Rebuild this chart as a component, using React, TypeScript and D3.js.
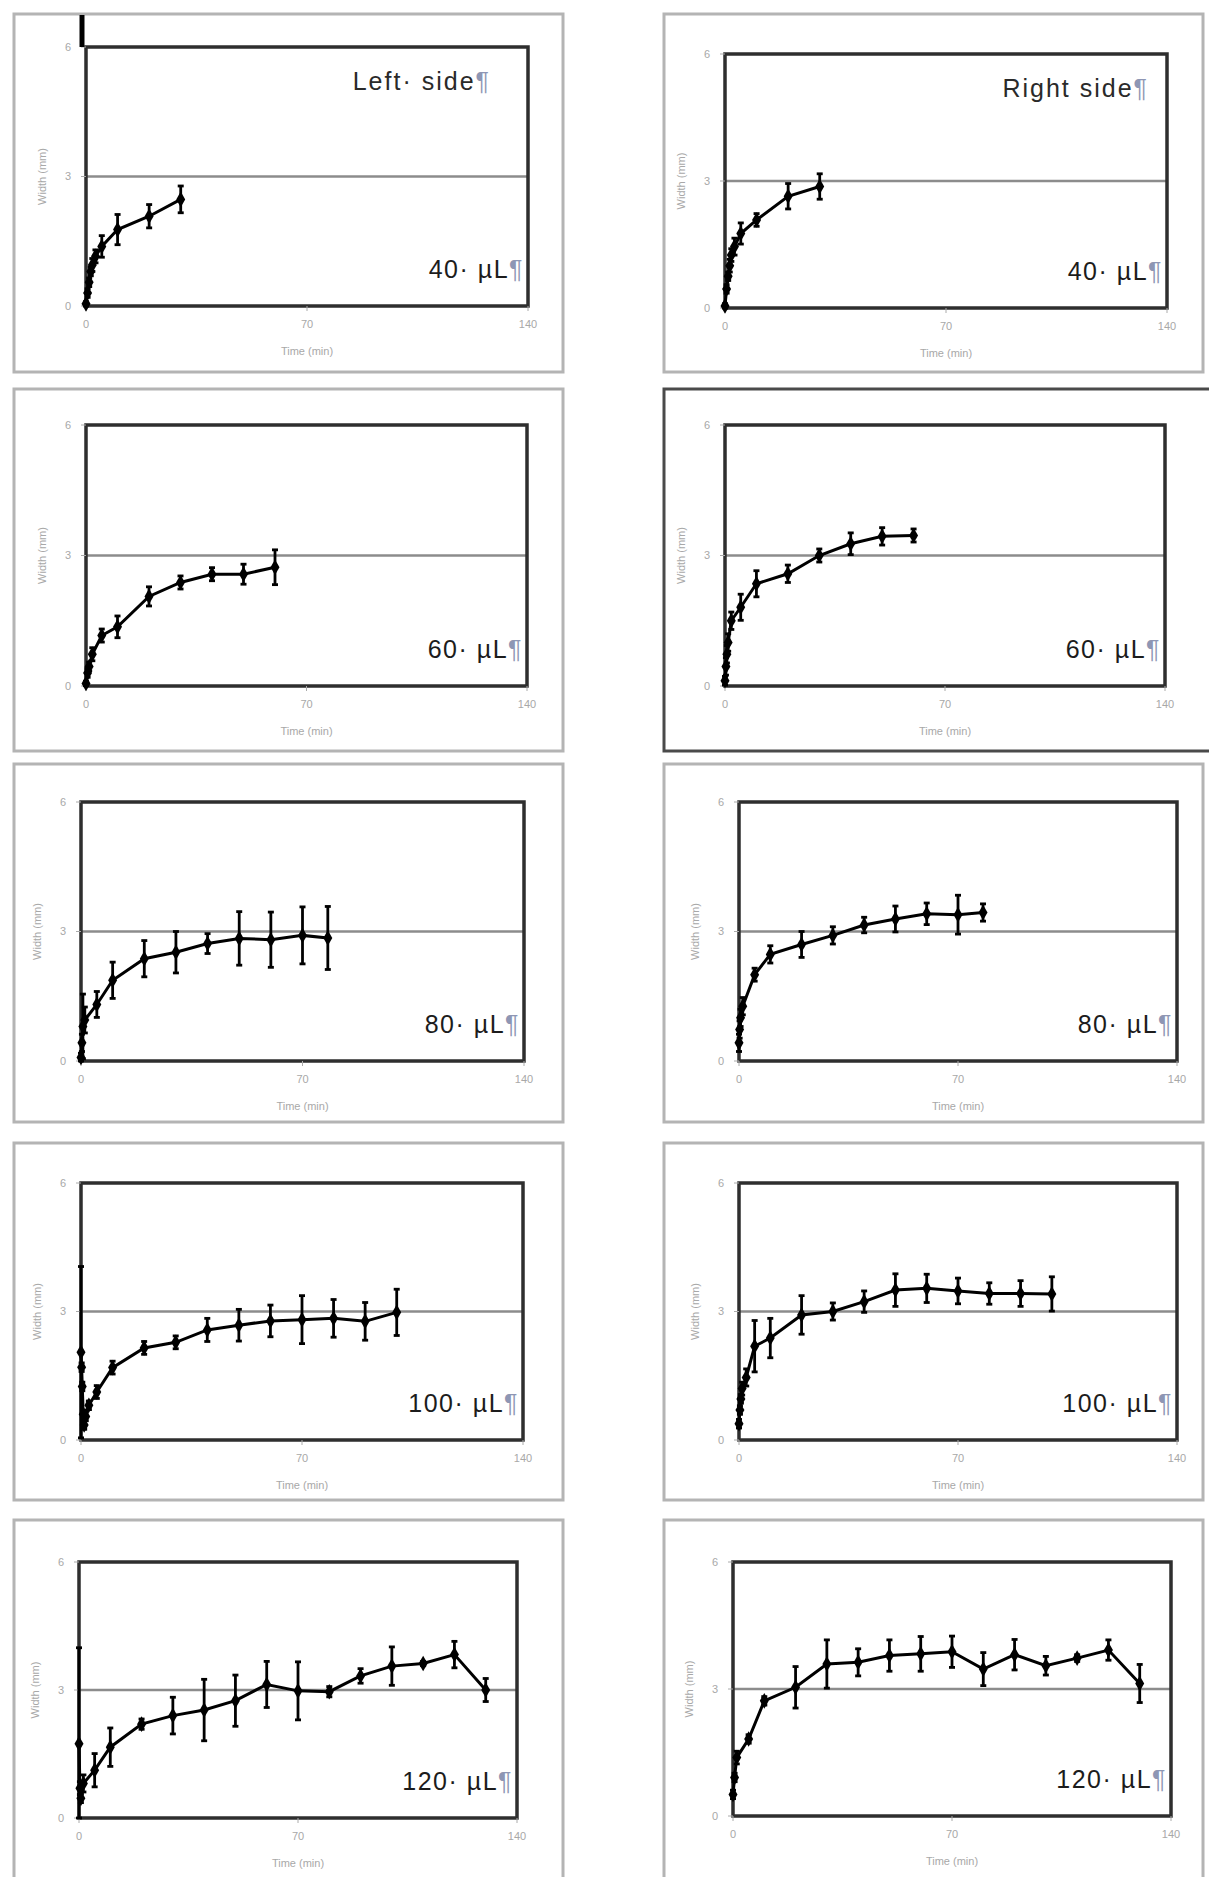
import React from "react";
import * as d3 from "d3";

// ---------- DATA ----------
const xTicks = [0, 70, 140];
const yTicks = [0, 3, 6];
const gridValue = 3;
const xTitle = "Time (min)";
const yTitle = "Width (mm)";
const sideLabels = ["Left· side", "Right side"];
const volumeLabels = ["40· µL", "60· µL", "80· µL", "100· µL", "120· µL"];

// Left side
const L40_t = [0, 0.5, 1, 1.5, 2, 3, 5, 10, 20, 30];
const L40_w = [0.05, 0.3, 0.55, 0.8, 0.95, 1.15, 1.38, 1.77, 2.08, 2.47];
const L40_e = [0.05, 0.1, 0.1, 0.1, 0.15, 0.15, 0.25, 0.35, 0.27, 0.31];

const L60_t = [0, 0.5, 1, 2, 5, 10, 20, 30, 40, 50, 60];
const L60_w = [0.06, 0.3, 0.45, 0.73, 1.16, 1.36, 2.06, 2.38, 2.57, 2.57, 2.73];
const L60_e = [0.05, 0.1, 0.1, 0.15, 0.15, 0.25, 0.22, 0.15, 0.15, 0.23, 0.4];

const L80_t = [0, 0.3, 0.6, 1.2, 5, 10, 20, 30, 40, 50, 60, 70, 78];
const L80_w = [0.08, 0.42, 0.8, 0.95, 1.31, 1.87, 2.37, 2.52, 2.72, 2.84, 2.81, 2.91, 2.85];
const L80_e = [0.1, 0.2, 0.75, 0.3, 0.3, 0.42, 0.42, 0.48, 0.23, 0.62, 0.64, 0.66, 0.73];

const L100_t = [0, 0.2, 0.4, 0.7, 1, 1.5, 2.5, 5, 10, 20, 30, 40, 50, 60, 70, 80, 90, 100];
const L100_w = [2.05, 1.7, 1.25, 0.6, 0.35, 0.55, 0.81, 1.12, 1.69, 2.15, 2.28, 2.57, 2.68, 2.78, 2.81, 2.84, 2.77, 2.98];
const L100_e = [2.0, 0.1, 0.1, 0.1, 0.1, 0.1, 0.1, 0.15, 0.15, 0.15, 0.15, 0.27, 0.37, 0.37, 0.56, 0.44, 0.44, 0.54];

const L120_t = [0, 0.3, 0.6, 1.4, 5, 10, 20, 30, 40, 50, 60, 70, 80, 90, 100, 110, 120, 130];
const L120_w = [1.74, 0.7, 0.46, 0.81, 1.12, 1.66, 2.2, 2.4, 2.53, 2.75, 3.13, 2.98, 2.96, 3.33, 3.56, 3.62, 3.83, 3.0];
const L120_e = [2.25, 0.15, 0.1, 0.2, 0.39, 0.45, 0.12, 0.43, 0.72, 0.6, 0.54, 0.68, 0.12, 0.17, 0.45, 0.05, 0.31, 0.27];

// Right side
const R40_t = [0, 0.5, 1, 1.5, 2, 3, 5, 10, 20, 30];
const R40_w = [0.05, 0.45, 0.75, 1.0, 1.25, 1.45, 1.76, 2.08, 2.64, 2.87];
const R40_e = [0.05, 0.1, 0.1, 0.15, 0.15, 0.2, 0.25, 0.15, 0.3, 0.3];

const R60_t = [0, 0.3, 0.6, 1, 2, 5, 10, 20, 30, 40, 50, 60];
const R60_w = [0.12, 0.45, 0.73, 1.0, 1.5, 1.81, 2.35, 2.58, 3.0, 3.27, 3.44, 3.46];
const R60_e = [0.1, 0.2, 0.2, 0.2, 0.2, 0.3, 0.3, 0.2, 0.15, 0.25, 0.2, 0.15];

const R80_t = [0, 0.2, 0.5, 1.2, 5, 10, 20, 30, 40, 50, 60, 70, 78];
const R80_w = [0.42, 0.73, 1.0, 1.27, 2.0, 2.47, 2.7, 2.91, 3.15, 3.29, 3.41, 3.39, 3.44];
const R80_e = [0.2, 0.2, 0.2, 0.2, 0.15, 0.2, 0.3, 0.2, 0.18, 0.3, 0.25, 0.45, 0.2];

const R100_t = [0, 0.3, 0.6, 1, 2.3, 5, 10, 20, 30, 40, 50, 60, 70, 80, 90, 100];
const R100_w = [0.38, 0.7, 0.96, 1.2, 1.46, 2.19, 2.38, 2.92, 3.0, 3.23, 3.5, 3.54, 3.48, 3.42, 3.42, 3.41];
const R100_e = [0.1, 0.1, 0.1, 0.15, 0.2, 0.6, 0.46, 0.45, 0.2, 0.25, 0.38, 0.33, 0.3, 0.25, 0.3, 0.4];

const R120_t = [0, 0.5, 1.2, 5, 10, 20, 30, 40, 50, 60, 70, 80, 90, 100, 110, 120, 130];
const R120_w = [0.51, 0.91, 1.38, 1.82, 2.72, 3.04, 3.59, 3.63, 3.79, 3.83, 3.88, 3.47, 3.81, 3.55, 3.73, 3.92, 3.13];
const R120_e = [0.1, 0.1, 0.15, 0.1, 0.1, 0.49, 0.57, 0.32, 0.37, 0.41, 0.37, 0.39, 0.36, 0.22, 0.08, 0.24, 0.45];

const leftSeries = [
  [L40_t, L40_w, L40_e],
  [L60_t, L60_w, L60_e],
  [L80_t, L80_w, L80_e],
  [L100_t, L100_w, L100_e],
  [L120_t, L120_w, L120_e],
];
const rightSeries = [
  [R40_t, R40_w, R40_e],
  [R60_t, R60_w, R60_e],
  [R80_t, R80_w, R80_e],
  [R100_t, R100_w, R100_e],
  [R120_t, R120_w, R120_e],
];

// ---------- LAYOUT ----------
const W = 1209;
const H = 1877;
const leftFrameX = [14, 563];
const rightFrameX = [664, 1203];
const frameRows = [
  [14, 372],
  [389, 751],
  [764, 1122],
  [1143, 1500],
  [1520, 1882],
];
const leftPlots = [
  { l: 86, r: 528, t: 47, b: 306 },
  { l: 86, r: 527, t: 425, b: 686 },
  { l: 81, r: 524, t: 802, b: 1061 },
  { l: 81, r: 523, t: 1183, b: 1440 },
  { l: 79, r: 517, t: 1562, b: 1818 },
];
const rightPlots = [
  { l: 725, r: 1167, t: 54, b: 308 },
  { l: 725, r: 1165, t: 425, b: 686 },
  { l: 739, r: 1177, t: 802, b: 1061 },
  { l: 739, r: 1177, t: 1183, b: 1440 },
  { l: 733, r: 1171, t: 1562, b: 1816 },
];

const FONT = "'Liberation Sans', Arial, sans-serif";
const diamond = d3.symbol(d3.symbolDiamond).size(70)();

function Panel({ plot, frame, series, vol, side, sideOffset, darkFrame }) {
  const [ts, ws, es] = series;
  const x = d3.scaleLinear().domain([0, 140]).range([plot.l, plot.r]);
  const y = d3.scaleLinear().domain([0, 6]).range([plot.b, plot.t]);
  const pts = ts.map((t, i) => ({ t, w: ws[i], e: es[i] }));
  const line = d3
    .line<any>()
    .x((d) => x(d.t))
    .y((d) => y(d.w));
  const clipY = (v: number) => Math.max(0, Math.min(6, v));
  return (
    <g>
      <rect
        x={frame.x0}
        y={frame.y0}
        width={frame.x1 - frame.x0}
        height={frame.y1 - frame.y0}
        fill="#fff"
        stroke={darkFrame ? "#4a4a4a" : "#b4b4b4"}
        strokeWidth={3}
      />
      <line x1={plot.l} x2={plot.r} y1={y(gridValue)} y2={y(gridValue)} stroke="#8c8c8c" strokeWidth={2.5} />
      <rect
        x={plot.l}
        y={plot.t}
        width={plot.r - plot.l}
        height={plot.b - plot.t}
        fill="none"
        stroke="#2e2e2e"
        strokeWidth={3.5}
      />
      {yTicks.map((v) => (
        <g key={"y" + v}>
          <line x1={plot.l - 5} x2={plot.l} y1={y(v)} y2={y(v)} stroke="#aaa" strokeWidth={1} />
          <text
            x={plot.l - 18}
            y={y(v)}
            dy="0.35em"
            textAnchor="middle"
            fontSize={11}
            fill="#a8a8a8"
            fontFamily={FONT}
          >
            {v}
          </text>
        </g>
      ))}
      {xTicks.map((v) => (
        <g key={"x" + v}>
          <line x1={x(v)} x2={x(v)} y1={plot.b} y2={plot.b + 5} stroke="#aaa" strokeWidth={1} />
          <text
            x={x(v)}
            y={plot.b + 22}
            textAnchor="middle"
            fontSize={11}
            fill="#a8a8a8"
            fontFamily={FONT}
          >
            {v}
          </text>
        </g>
      ))}
      <text
        x={(plot.l + plot.r) / 2}
        y={plot.b + 49}
        textAnchor="middle"
        fontSize={11}
        fill="#a8a8a8"
        fontFamily={FONT}
      >
        {xTitle}
      </text>
      <text
        transform={`translate(${plot.l - 40},${(plot.t + plot.b) / 2}) rotate(-90)`}
        textAnchor="middle"
        fontSize={11}
        fill="#a8a8a8"
        fontFamily={FONT}
      >
        {yTitle}
      </text>
      {pts.map((d, i) => {
        const y0 = y(clipY(d.w - d.e));
        const y1 = y(clipY(d.w + d.e));
        return (
          <g key={"e" + i} stroke="#000" strokeWidth={2.8}>
            <line x1={x(d.t)} x2={x(d.t)} y1={y0} y2={y1} />
            <line x1={x(d.t) - 3} x2={x(d.t) + 3} y1={y0} y2={y0} />
            <line x1={x(d.t) - 3} x2={x(d.t) + 3} y1={y1} y2={y1} />
          </g>
        );
      })}
      <path d={line(pts) || ""} fill="none" stroke="#000" strokeWidth={3} />
      {pts.map((d, i) => (
        <path key={"m" + i} d={diamond || ""} transform={`translate(${x(d.t)},${y(d.w)})`} fill="#000" />
      ))}
      <text
        x={plot.r - 4}
        y={plot.b - 28}
        textAnchor="end"
        fontSize={25}
        fill="#1c1c1c"
        fontFamily={FONT}
        letterSpacing={1.5}
      >
        {vol}
        <tspan fill="#8e96b4">¶</tspan>
      </text>
      {side && (
        <text
          x={plot.r - sideOffset}
          y={plot.t + 43}
          textAnchor="end"
          fontSize={25}
          fill="#2a2a2a"
          fontFamily={FONT}
          letterSpacing={2}
        >
          {side}
          <tspan fill="#8e96b4">¶</tspan>
        </text>
      )}
    </g>
  );
}

export default function App() {
  return (
    <svg
      width={W}
      height={H}
      viewBox={`0 0 ${W} ${H}`}
      style={{ position: "absolute", left: 0, top: 0, background: "#fff" }}
    >
      <rect x={0} y={0} width={W} height={H} fill="#fff" />
      {leftSeries.map((s, i) => (
        <Panel
          key={"L" + i}
          plot={leftPlots[i]}
          frame={{ x0: leftFrameX[0], x1: leftFrameX[1], y0: frameRows[i][0], y1: frameRows[i][1] }}
          series={s}
          vol={volumeLabels[i]}
          side={i === 0 ? sideLabels[0] : null}
          sideOffset={37}
          darkFrame={false}
        />
      ))}
      {rightSeries.map((s, i) => (
        <Panel
          key={"R" + i}
          plot={rightPlots[i]}
          frame={{
            x0: rightFrameX[0],
            x1: i === 1 ? W + 2 : rightFrameX[1],
            y0: frameRows[i][0],
            y1: frameRows[i][1],
          }}
          series={s}
          vol={volumeLabels[i]}
          side={i === 0 ? sideLabels[1] : null}
          sideOffset={18}
          darkFrame={i === 1}
        />
      ))}
      <line
        x1={leftPlots[0].l - 4}
        x2={leftPlots[0].l - 4}
        y1={frameRows[0][0] + 1}
        y2={leftPlots[0].t}
        stroke="#000"
        strokeWidth={5}
      />
    </svg>
  );
}
